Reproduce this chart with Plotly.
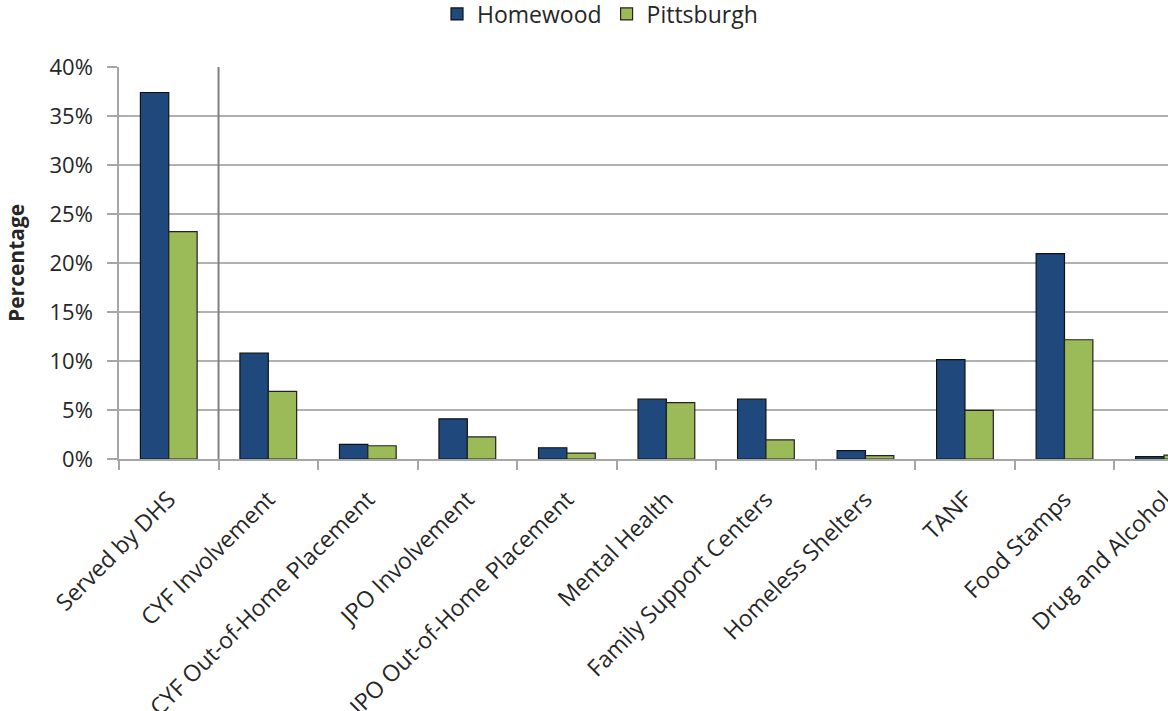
import plotly.graph_objects as go

categories = ["Served by DHS", "CYF Involvement", "CYF Out-of-Home Placement",
              "JPO Involvement", "JPO Out-of-Home Placement", "Mental Health",
              "Family Support Centers", "Homeless Shelters", "TANF",
              "Food Stamps", "Drug and Alcohol"]
homewood = [0.374, 0.108, 0.015, 0.041, 0.0115, 0.061, 0.061, 0.0085, 0.1015, 0.2095, 0.0025]
pittsburgh = [0.232, 0.069, 0.0135, 0.0225, 0.006, 0.0575, 0.0195, 0.0035, 0.0497, 0.1217, 0.004]
y_ticks = [0, 0.05, 0.10, 0.15, 0.20, 0.25, 0.30, 0.35, 0.40]

FONT = "Open Sans, Lato, sans-serif"
W, H = 1168, 711
L, R, T, B = 119, 0, 67, 252
PW = W - L - R
PH = H - T - B

fig = go.Figure()
fig.add_trace(go.Bar(name="Homewood", x=categories, y=homewood,
                     marker=dict(color="#1F497D", line=dict(color="#111111", width=1.2))))
fig.add_trace(go.Bar(name="Pittsburgh", x=categories, y=pittsburgh,
                     marker=dict(color="#9BBB59", line=dict(color="#222222", width=1.2))))

fig.update_layout(
    width=W, height=H,
    margin=dict(l=L, r=R, t=T, b=B, autoexpand=False),
    paper_bgcolor="white", plot_bgcolor="white",
    barmode="group", bargap=0.43, bargroupgap=0,
    font=dict(family=FONT, color="#262626"),
    legend=dict(orientation="h", x=(600 - 119) / PW, xanchor="center",
                y=1 + (67 - 14) / PH, yanchor="middle",
                font=dict(size=23, family=FONT, color="#262626"),
                itemwidth=30, traceorder="normal", bgcolor="rgba(0,0,0,0)"),
    showlegend=True,
)
fig.update_xaxes(
    type="category", range=[-0.5, 10.04],
    showline=True, linecolor="#A6A6A6", linewidth=1.5,
    ticks="outside", tickson="boundaries", ticklen=9, tickcolor="#A6A6A6", tickwidth=1.5,
    tickangle=-45, tickfont=dict(size=23, family=FONT, color="#262626"),
    ticklabelstandoff=16,
    showgrid=False,
)
fig.update_yaxes(
    range=[0, 0.40], tickvals=y_ticks, tickformat=".0%",
    showline=True, linecolor="#A6A6A6", linewidth=1.5,
    ticks="outside", ticklen=10, tickcolor="#A6A6A6", tickwidth=1.5,
    tickfont=dict(size=22, family=FONT, color="#262626"),
    ticklabelstandoff=10,
    showgrid=True, gridcolor="#B0B0B0", gridwidth=1.5,
    zeroline=False,
)
# divider between "Served by DHS" and the other categories
fig.add_shape(type="line", xref="x", yref="paper", x0=0.5, x1=0.5, y0=0, y1=1,
              line=dict(color="#808080", width=2))
fig.add_annotation(text="<b>Percentage</b>", xref="paper", yref="paper",
                   x=(16 - L) / PW, y=0.5, textangle=-90, showarrow=False,
                   xanchor="center", yanchor="middle",
                   font=dict(size=21, family=FONT, color="#262626"))

fig.write_html("out.html", config={"displayModeBar": False},
               post_script="document.body.style.margin='0';document.body.style.padding='0';")
